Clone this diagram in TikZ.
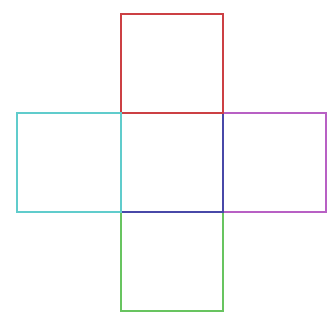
\documentclass[tikz,border=0pt]{standalone}
\definecolor{cred}{RGB}{204,64,68}
\definecolor{ccyan}{RGB}{96,204,204}
\definecolor{cblue}{RGB}{72,72,168}
\definecolor{cmag}{RGB}{184,96,196}
\definecolor{cgreen}{RGB}{104,196,96}
\begin{document}
\begin{tikzpicture}[x=1pt,y=-1pt,face/.style={line width=2pt}]
\useasboundingbox[fill=white] (0,0) rectangle (335,329);
\draw[face,cmag] (222.5,113) rectangle (326,212);
\draw[face,cgreen] (120.5,212) rectangle (222.5,310.5);
\draw[face,cblue] (120.5,113) rectangle (222.5,212);
\draw[face,cred] (120.5,14) rectangle (222.5,113);
\draw[face,ccyan] (16.5,113) rectangle (120.5,212);
\end{tikzpicture}
\end{document}
